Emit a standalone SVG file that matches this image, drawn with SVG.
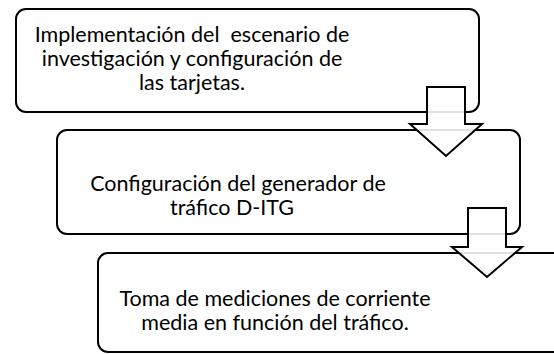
<svg xmlns="http://www.w3.org/2000/svg" width="554" height="354" viewBox="0 0 554 354">
<style>
.box{fill:#fff;stroke:#000;stroke-width:2}
.arrow{fill:#fff;fill-opacity:0.88;stroke:#000;stroke-width:2;stroke-linejoin:miter}
text{font-family:Lato,"Open Sans",sans-serif;font-size:21.5px;fill:#000;text-anchor:middle}
</style>
<rect width="554" height="354" fill="#fff"/>
<g id="node1">
<rect class="box" x="16" y="9" width="463" height="103" rx="10"/>
<text x="192" y="42" xml:space="preserve">Implementación del  escenario de</text>
<text x="192" y="66">investigación y configuración de</text>
<text x="192" y="90">las tarjetas.</text>
</g>
<g id="node2">
<rect class="box" x="57" y="130" width="463" height="104" rx="10"/>
<text x="238" y="191">Configuración del generador de</text>
<text x="232" y="215">tráfico D-ITG</text>
</g>
<g id="node3">
<rect class="box" x="98" y="253" width="480" height="99" rx="10"/>
<text x="275" y="306">Toma de mediciones de corriente</text>
<text x="275" y="330">media en función del tráfico.</text>
</g>
<g id="connectors">
<polygon class="arrow" points="427,87 465,87 465,124 482,124 446,156 410,124 427,124"/>
<polygon class="arrow" points="468,208 506,208 506,247 522,247 487,277 452,247 468,247"/>
</g>
</svg>
